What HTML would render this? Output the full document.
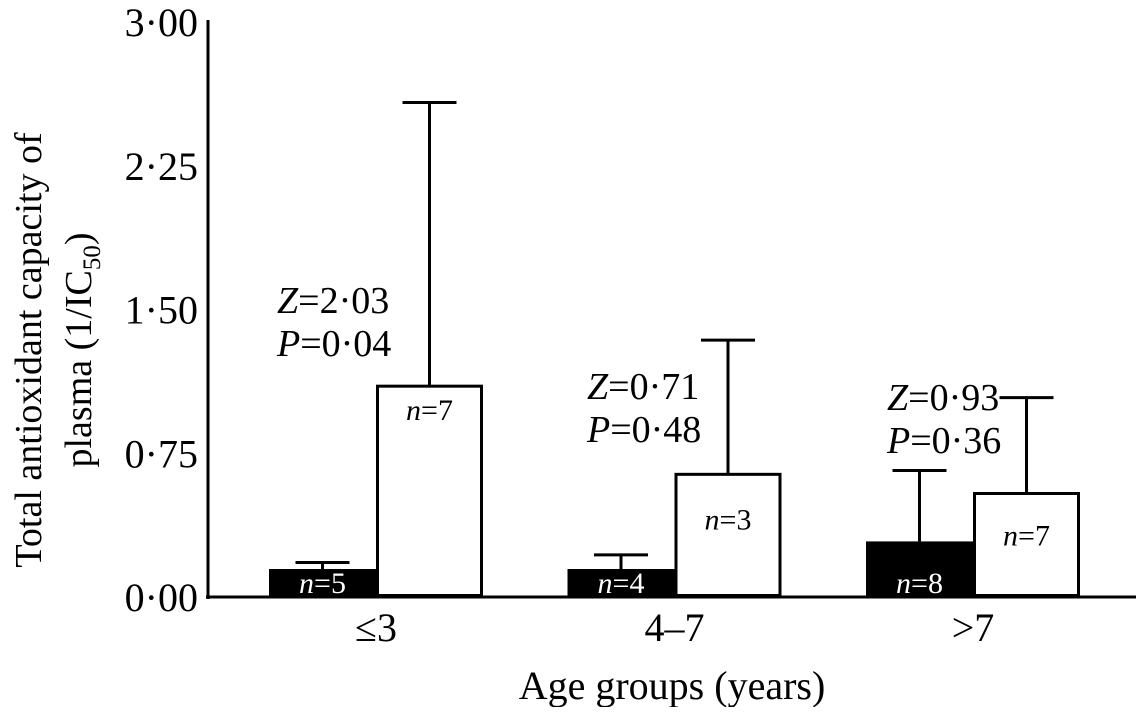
<!DOCTYPE html>
<html><head><meta charset="utf-8"><style>
html,body{margin:0;padding:0;background:#fff;}
svg text{font-family:"Liberation Serif",serif;}
</style></head><body>
<svg id="chart" width="1136" height="707">
<g id="g"></g>
</svg>
<script>
const categories = ["≤3", "4–7", ">7"];
const groupA = [0.146, 0.146, 0.29];
const groupAErr = [0.18, 0.22, 0.66];
const groupB = [1.10, 0.64, 0.54];
const groupBErr = [2.58, 1.34, 1.04];
const nA = ["5", "4", "8"];
const nB = ["7", "3", "7"];
const zVals = ["2·03", "0·71", "0·93"];
const pVals = ["0·04", "0·48", "0·36"];
const yTicks = [0, 0.75, 1.5, 2.25, 3.0];
const yTickLabels = ["0·00", "0·75", "1·50", "2·25", "3·00"];

const NS = "http://www.w3.org/2000/svg";
const g = document.getElementById("g");
const y0 = 597, yTop = 22, yMax = 3.0;
const y = v => y0 - v / yMax * (y0 - yTop);
const groupX = i => 269 + i * 298.5;
const barW = 107;
function el(tag, attrs, parent) {
  const e = document.createElementNS(NS, tag);
  for (const k in attrs) e.setAttribute(k, attrs[k]);
  (parent || g).appendChild(e);
  return e;
}
let a = el("line", {x1: 208, y1: 20, x2: 208, y2: 599, stroke: "#000", "stroke-width": 3});


a = el("line", {x1: 206, y1: 597, x2: 1136, y2: 597, stroke: "#000", "stroke-width": 3});


yTicks.forEach((t, i) => {
  const tl = el("text", {x: 198, y: y(t) + 14, "font-size": 40, "text-anchor": "end"});
  tl.textContent = yTickLabels[i];
  
  
});
function errBar(cx, top, val) {
  const ln = el("line", {x1: cx, y1: y(val), x2: cx, y2: top, stroke: "#000", "stroke-width": 3});
  
  
  const cap = el("line", {x1: cx - 27, y1: y(val), x2: cx + 27, y2: y(val), stroke: "#000", "stroke-width": 3});
  
  
}
function nLabel(x, yy, n, fill) {
  const t = el("text", {x: x, y: yy, "font-size": 30, "text-anchor": "middle", style: "fill:" + fill});
  t.innerHTML = '<tspan font-style="italic">n</tspan>=' + n;
  
  
}
const nOff = [34, 55, 52];
const statX = [277, 587, 887];
const statY = [313, 399, 410];
categories.forEach((c, i) => {
  const x = groupX(i);
  errBar(x + barW / 2, y(groupA[i]), groupAErr[i]);
  errBar(x + barW * 1.5, y(groupB[i]), groupBErr[i]);
  const ba = el("rect", {x: x, y: y(groupA[i]), width: barW, height: y0 - y(groupA[i]), fill: "#000"});
  
  
  const bb = el("rect", {x: x + barW + 1.5, y: y(groupB[i]), width: barW - 3, height: y0 - y(groupB[i]) - 1.5, fill: "#fff", stroke: "#000", "stroke-width": 3});
  
  
  nLabel(x + barW / 2, 593, nA[i], "#fff");
  nLabel(x + barW * 1.5, y(groupB[i]) + nOff[i], nB[i], "#000");
  const cl = el("text", {x: x + barW, y: 641, "font-size": 40, "text-anchor": "middle"});
  cl.textContent = c;
  
  
  const z = el("text", {x: statX[i], y: statY[i], "font-size": 38});
  z.innerHTML = '<tspan font-style="italic">Z</tspan>=' + zVals[i];
  
  
  const p = el("text", {x: statX[i], y: statY[i] + 43, "font-size": 38});
  p.innerHTML = '<tspan font-style="italic">P</tspan>=' + pVals[i];
  
  
});
const xt = el("text", {x: 672, y: 699, "font-size": 40, "text-anchor": "middle"});
xt.textContent = "Age groups (years)";


const yt1 = el("text", {transform: "translate(41,350) rotate(-90)", "font-size": 38, "text-anchor": "middle"});
yt1.textContent = "Total antioxidant capacity of";


const yt2 = el("text", {transform: "translate(91,350) rotate(-90)", "font-size": 38, "text-anchor": "middle"});
yt2.innerHTML = 'plasma (1/IC<tspan font-size="25" dy="9">50</tspan><tspan dy="-9">)</tspan>';


</script>
</body></html>
